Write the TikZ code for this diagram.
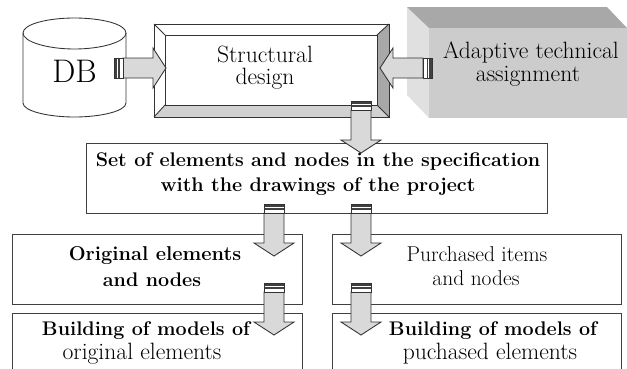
\documentclass[tikz,border=0pt]{standalone}
\usepackage{fontspec}
\definecolor{ink}{gray}{0.25}
\definecolor{arrowfill}{gray}{0.85}
\definecolor{bevelbot}{gray}{0.82}
\definecolor{bevelright}{gray}{0.66}
\definecolor{cubefront}{gray}{0.8}
\definecolor{cubetop}{gray}{0.66}
\definecolor{cubeside}{gray}{0.88}
\tikzset{
  framebox/.style={draw=ink,line width=0.7pt,fill=white},
  edgeline/.style={draw=black!80,line width=0.65pt},
  txt/.style={inner sep=0pt,text=black,font=\fontsize{17.7pt}{20pt}\selectfont},
  smalltxt/.style={inner sep=0pt,text=black,font=\fontsize{16.1pt}{19pt}\selectfont},
  btxt/.style={inner sep=0pt,text=black,font=\fontsize{14.8pt}{18pt}\selectfont\bfseries},
  pics/blockarrow/.style={code={
    \draw[edgeline,fill=arrowfill,line join=miter]
      (-43,-10) -- (-13,-10) -- (-13,-20) -- (0,0) -- (-13,20) -- (-13,10) -- (-43,10) -- cycle;
    \fill[white] (-52,-10) rectangle (-43,10);
    \fill[black!75] (-52,-10) rectangle (-49,10);
    \fill[black!75] (-48,-10) rectangle (-46.5,10);
    \draw[black!80,line width=0.6pt] (-52,-10) rectangle (-43,10);
  }}
}
\begin{document}
\begin{tikzpicture}[x=0.75pt,y=-0.75pt]
\useasboundingbox (0,0) rectangle (627,368);
\clip (0,0) rectangle (627,368);
% cube
\fill[cubeside] (407,7) -- (429,28) -- (429,118) -- (407,95) -- cycle;
\fill[cubetop] (407,7) -- (607,7) -- (627,28) -- (429,28) -- cycle;
\fill[cubefront] (429,28) rectangle (627,118);
% database
\draw[edgeline,fill=white] (23,33) .. controls (23,24) and (48,18) .. (74.5,18)
  .. controls (101,18) and (126,24) .. (126,33) -- (126,103)
  .. controls (126,111) and (101,117) .. (74.5,117)
  .. controls (48,117) and (23,111) .. (23,103) -- cycle;
\draw[edgeline] (23,33) .. controls (23,42) and (48,49) .. (74.5,49)
  .. controls (101,49) and (126,42) .. (126,33);
% bevelled frame
\fill[bevelbot] (154,117) -- (165,105) -- (377,105) -- (389,117) -- cycle;
\fill[bevelright] (389,24) -- (377,35) -- (377,105) -- (389,117) -- cycle;
\draw[edgeline] (154,24) rectangle (389,117);
\draw[edgeline] (165,35) rectangle (377,105);
\draw[edgeline] (154,24) -- (165,35) (389,24) -- (377,35) (154,117) -- (165,105) (389,117) -- (377,105);
% boxes
\node[framebox,minimum width=345.75pt,minimum height=52.5pt,inner sep=0pt] (setbox) at (316.5,178) {};
\node[framebox,minimum width=217.5pt,minimum height=52pt,inner sep=0pt] (origbox) at (157,269.5) {};
\node[framebox,minimum width=216.75pt,minimum height=52pt,inner sep=0pt] (purchbox) at (476.5,269.5) {};
\node[framebox,minimum width=217.5pt,minimum height=60pt,inner sep=0pt] (origmodel) at (157,353.5) {};
\node[framebox,minimum width=216.75pt,minimum height=60pt,inner sep=0pt] (purchmodel) at (476.5,353.5) {};
% arrows
\pic at (166,68) {blockarrow};
\pic[rotate=180] at (380,68) {blockarrow};
\pic[rotate=-90] at (361,153) {blockarrow};
\pic[rotate=-90] at (274,256) {blockarrow};
\pic[rotate=-90] at (361,256) {blockarrow};
\pic[rotate=-90] at (274,335) {blockarrow};
\pic[rotate=-90] at (361,335) {blockarrow};
% text
\node[txt,font=\fontsize{24.5pt}{28pt}\selectfont] (db) at (74.5,71) {DB};
\node[txt] (structural) at (265,54.5) {Structural};
\node[txt] (design) at (265,79) {design};
\node[txt] (adaptive) at (531,52) {Adaptive technical};
\node[txt] (assignment) at (528,76) {assignment};
\node[btxt] (set1) at (318,162) {Set of elements and nodes in the specification};
\node[btxt] (set2) at (318,187) {with the drawings of the project};
\node[btxt,font=\fontsize{15pt}{18pt}\selectfont\bfseries] (orig1) at (155,256) {Original elements};
\node[btxt] (orig2) at (152,280) {and nodes};
\node[smalltxt] (purch1) at (477,254) {Purchased items};
\node[smalltxt] (purch2) at (476,278) {and nodes};
\node[btxt] (bm1) at (146,331) {Building of models of};
\node[txt] (bm2) at (142,354) {original elements};
\node[btxt] (bp1) at (493,331) {Building of models of};
\node[txt] (bp2) at (490,354) {puchased elements};
\end{tikzpicture}
\end{document}
